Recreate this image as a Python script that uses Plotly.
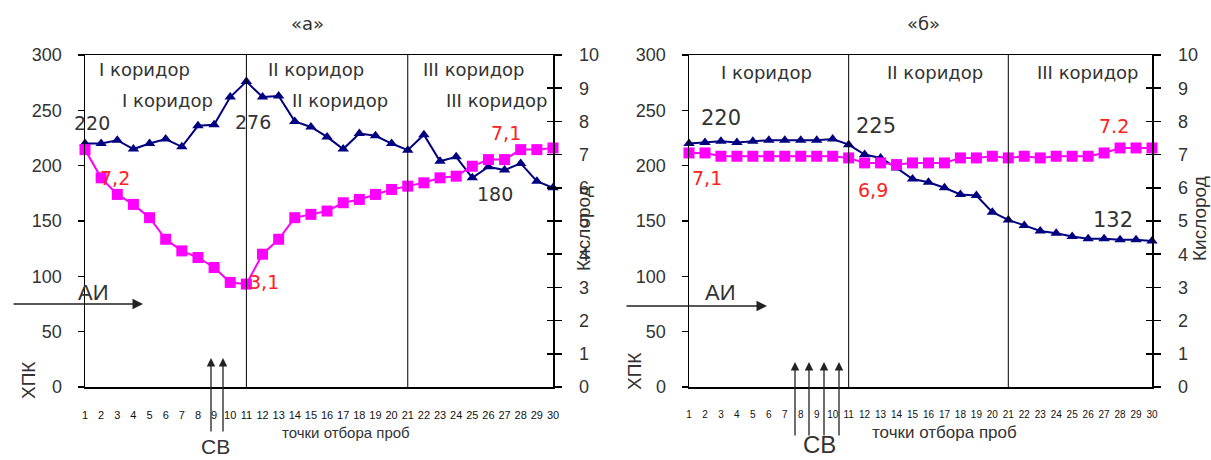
import plotly.graph_objects as go

W, H = 1211, 460

# ---------------- data ----------------
points = list(range(1, 31))
tick_labels = [str(p) for p in points]

# chart «а»
xpk_a = [220, 220, 223, 215, 220, 224, 217, 236, 237, 262, 276, 262, 263, 240, 235,
         226, 215, 229, 227, 220, 214, 228, 204, 208, 189, 199, 196, 202, 186, 180]
o2_a = [7.15, 6.3, 5.8, 5.5, 5.1, 4.45, 4.1, 3.9, 3.6, 3.15, 3.1, 4.0, 4.45, 5.1, 5.2,
        5.3, 5.55, 5.65, 5.8, 5.95, 6.05, 6.15, 6.3, 6.35, 6.65, 6.85, 6.85, 7.15, 7.15, 7.2]

# chart «б»
xpk_b = [220, 221, 222, 221, 222, 223, 223, 223, 223, 224, 219, 210, 207, 198, 188,
         185, 180, 174, 173, 158, 151, 146, 141, 139, 136, 134, 134, 133, 133, 132]
o2_b = [7.05, 7.05, 6.95, 6.95, 6.95, 6.95, 6.95, 6.95, 6.95, 6.95, 6.9, 6.75, 6.75, 6.7, 6.75,
        6.75, 6.75, 6.9, 6.9, 6.95, 6.9, 6.95, 6.9, 6.95, 6.95, 6.95, 7.05, 7.2, 7.2, 7.2]

corridor_bounds = [11, 21]
corridor_names = ["I коридор", "II коридор", "III коридор"]

NAVY = "#000080"
MAG = "#FF00FF"
RED = "#FF2020"
TXT = "#333333"
SANS = "Liberation Sans, Arial, sans-serif"
WIDE = "DejaVu Sans, Verdana, sans-serif"


def px(x):
    return x / W


def py(y):
    return 1 - y / H


fig = go.Figure()

# ---- traces chart а
fig.add_trace(go.Scatter(x=points, y=xpk_a, xaxis="x", yaxis="y", mode="lines+markers",
                         line=dict(color=NAVY, width=2),
                         marker=dict(symbol="triangle-up", size=10, color=NAVY),
                         cliponaxis=False, hoverinfo="skip"))
fig.add_trace(go.Scatter(x=points, y=o2_a, xaxis="x", yaxis="y2", mode="lines+markers",
                         line=dict(color=MAG, width=2),
                         marker=dict(symbol="square", size=11, color=MAG),
                         cliponaxis=False, hoverinfo="skip"))
fig.add_trace(go.Scatter(x=[], y=[], xaxis="x", yaxis="y3", showlegend=False, hoverinfo="skip"))

# ---- traces chart б
fig.add_trace(go.Scatter(x=points, y=xpk_b, xaxis="x2", yaxis="y4", mode="lines+markers",
                         line=dict(color=NAVY, width=2),
                         marker=dict(symbol="triangle-up", size=10, color=NAVY),
                         cliponaxis=False, hoverinfo="skip"))
fig.add_trace(go.Scatter(x=points, y=o2_b, xaxis="x2", yaxis="y5", mode="lines+markers",
                         line=dict(color=MAG, width=2),
                         marker=dict(symbol="square", size=11, color=MAG),
                         cliponaxis=False, hoverinfo="skip"))
fig.add_trace(go.Scatter(x=[], y=[], xaxis="x2", yaxis="y6", showlegend=False, hoverinfo="skip"))

ydom = [py(387), py(55)]

def xaxis_cfg(dom, anchor, fsize):
    return dict(domain=dom, anchor=anchor, range=[1, 30], tickmode="array",
                tickvals=points, ticktext=tick_labels, showline=True, linecolor="black",
                linewidth=1.5, mirror=True, showgrid=False, zeroline=False, ticks="",
                tickfont=dict(family=SANS, size=fsize, color="#111"),
                ticklabelstandoff=17, fixedrange=True, automargin=False)


def yleft_cfg(anchor):
    return dict(domain=ydom, anchor=anchor, range=[0, 300], tick0=0, dtick=50,
                ticks="outside", ticklen=6, tickwidth=1.5, tickcolor="black",
                showline=True, linecolor="black", linewidth=1.5, showgrid=False,
                zeroline=False, tickfont=dict(family=SANS, size=18, color=TXT),
                ticklabelstandoff=12, fixedrange=True, automargin=False)


def yright_cfg(anchor, over):
    return dict(overlaying=over, side="right", anchor=anchor, range=[0, 10], tick0=0,
                dtick=1, ticks="outside", ticklen=7, tickwidth=1.5, tickcolor="black",
                showline=True, linecolor="black", linewidth=1.5, showgrid=False,
                zeroline=False, tickfont=dict(family=SANS, size=18, color=TXT),
                ticklabelstandoff=14, fixedrange=True, automargin=False)


def yinner_cfg(anchor, over):
    return dict(overlaying=over, side="right", anchor=anchor, range=[0, 10], tick0=0,
                dtick=1, ticks="inside", ticklen=6, tickwidth=1.5, tickcolor="black",
                showline=False, showgrid=False, zeroline=False, showticklabels=False,
                fixedrange=True, automargin=False)


fig.update_layout(
    width=W, height=H, margin=dict(l=0, r=0, t=0, b=0, autoexpand=False),
    paper_bgcolor="white", plot_bgcolor="white", showlegend=False,
    xaxis=xaxis_cfg([px(85), px(553)], "y", 11),
    yaxis=yleft_cfg("x"),
    yaxis2=yright_cfg("x", "y"),
    yaxis3=yinner_cfg("x", "y"),
    xaxis2=xaxis_cfg([px(689), px(1152)], "y4", 10),
    yaxis4=yleft_cfg("x2"),
    yaxis5=yright_cfg("x2", "y4"),
    yaxis6=yinner_cfg("x2", "y4"),
)

# corridor boundaries
shapes = []
for b in corridor_bounds:
    shapes.append(dict(type="line", xref="x", yref="y", x0=b, x1=b, y0=-4, y1=300,
                       line=dict(color="black", width=1)))
    shapes.append(dict(type="line", xref="x2", yref="y4", x0=b, x1=b, y0=-4, y1=300,
                       line=dict(color="black", width=1)))
fig.update_layout(shapes=shapes)

ann = []


def text(x, y, t, size, family=WIDE, color=TXT, angle=0, yanchor="middle"):
    ann.append(dict(xref="paper", yref="paper", x=px(x), y=py(y), text=t, showarrow=False,
                    xanchor="center", yanchor=yanchor, textangle=angle,
                    font=dict(family=family, size=size, color=color)))


def vlabel(xref, yref, xv, yv, t, dx, dy, size, color):
    ann.append(dict(xref=xref, yref=yref, x=xv, y=yv, text=t, showarrow=False,
                    xanchor="center", yanchor="middle", xshift=dx, yshift=dy,
                    font=dict(family=WIDE, size=size, color=color)))


# titles
text(307, 23, "«а»", 18)
text(923, 23, "«б»", 18)

# corridor names, chart а (two rows)
text(144, 69, corridor_names[0], 18)
text(316, 69, corridor_names[1], 18)
text(474, 69, corridor_names[2], 18)
text(167, 101, corridor_names[0], 18)
text(340, 101, corridor_names[1], 18)
text(497, 101, corridor_names[2], 18)
# corridor names, chart б
text(767, 72, corridor_names[0], 18)
text(935, 72, corridor_names[1], 18)
text(1088, 72, corridor_names[2], 18)

# value labels anchored to data points
vlabel("x", "y", 1, xpk_a[0], "220", 7, 21, 19, TXT)
vlabel("x", "y", 11, xpk_a[10], "276", 7, -40, 19, TXT)
vlabel("x", "y2", 1, o2_a[0], "7,2", 30, -28, 19, RED)
vlabel("x", "y2", 11, o2_a[10], "3,1", 18, 2, 19, RED)
vlabel("x", "y2", 28, o2_a[27], "7,1", -15, 17, 19, RED)
vlabel("x", "y", 30, xpk_a[29], "180", -58, -6, 19, TXT)

vlabel("x2", "y4", 1, xpk_b[0], "220", 32, 26, 21, TXT)
vlabel("x2", "y4", 10, xpk_b[9], "225", 43, 13, 21, TXT)
vlabel("x2", "y5", 1, o2_b[0], "7,1", 18, -25, 19, RED)
vlabel("x2", "y5", 11, o2_b[10], "6,9", 24, -32, 19, RED)
vlabel("x2", "y5", 28, o2_b[27], "7.2", -6, 22, 19, RED)
vlabel("x2", "y4", 30, xpk_b[29], "132", -39, 21, 21, TXT)

# axis titles
text(28, 381, "ХПК", 19, SANS, TXT, -90)
text(634, 371, "ХПК", 19, SANS, TXT, -90)
text(583, 229, "Кислород", 19, SANS, TXT, -90)
text(1199, 219, "Кислород", 19, SANS, TXT, -90)
text(346, 432, "точки отбора проб", 15, SANS, TXT)
text(944, 432, "точки отбора проб", 17, SANS, TXT)

# АИ arrows
text(93, 292, "АИ", 22, SANS, TXT)
text(720, 292, "АИ", 22, SANS, TXT)
for hx, tx, yy in [(143, 12, 304), (767, 625, 306)]:
    ann.append(dict(xref="paper", yref="paper", x=px(hx), y=py(yy), ax=tx - hx, ay=0,
                    axref="pixel", ayref="pixel", text="", showarrow=True,
                    arrowhead=2, arrowsize=1.4, arrowwidth=1.5, arrowcolor="#222"))

# СВ arrows
text(215, 460, "СВ", 21, SANS, TXT, yanchor="bottom")
text(819, 460, "СВ", 24, SANS, TXT, yanchor="bottom")
for hx in [211, 223]:
    ann.append(dict(xref="paper", yref="paper", x=px(hx), y=py(358), ax=0, ay=75,
                    text="", showarrow=True, arrowhead=2, arrowsize=1.3,
                    arrowwidth=1.3, arrowcolor="#222"))
for hx in [795, 809, 824, 839]:
    ann.append(dict(xref="paper", yref="paper", x=px(hx), y=py(362), ax=0, ay=75,
                    text="", showarrow=True, arrowhead=2, arrowsize=1.3,
                    arrowwidth=1.3, arrowcolor="#222"))

fig.update_layout(annotations=ann)

fig.write_html("out.html", include_plotlyjs=True, full_html=True,
               config={"displayModeBar": False, "staticPlot": True},
               post_script="document.body.style.margin='0';")
